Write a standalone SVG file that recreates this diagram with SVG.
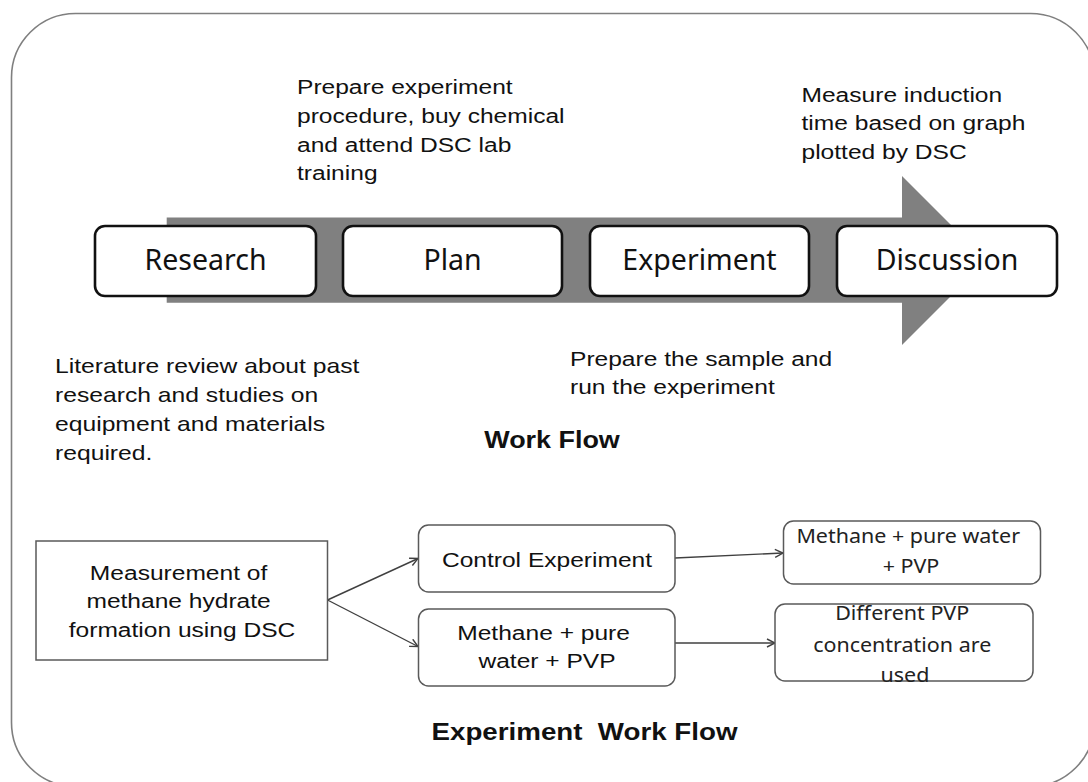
<svg xmlns="http://www.w3.org/2000/svg" width="1088" height="782" viewBox="0 0 1088 782">
  <defs>
    <style>
      .frame { fill: #ffffff; stroke: #7f7f7f; stroke-width: 1.6; }
      .stage { fill: #ffffff; stroke: #111111; stroke-width: 2.6; }
      .stagetxt { font-family: "Noto Sans", "Open Sans", sans-serif; font-size: 28.5px; fill: #111111; text-anchor: middle; }
      .para { font-family: "Liberation Sans", Arial, sans-serif; font-size: 21px; fill: #111111; }
      .title { font-family: "Liberation Sans", Arial, sans-serif; font-weight: bold; fill: #111111; text-anchor: middle; }
      .box { fill: #ffffff; stroke: #5a5a5a; stroke-width: 1.5; }
      .boxtxt { font-family: "Liberation Sans", Arial, sans-serif; font-size: 21px; fill: #111111; text-anchor: middle; }
      .calib { font-family: "Noto Sans", "Open Sans", sans-serif; font-size: 19px; fill: #222222; text-anchor: middle; }
      .conn { fill: none; stroke: #404040; stroke-width: 1.4; }
    </style>
    <marker id="chev" viewBox="0 0 10 10" refX="9" refY="5" markerWidth="10" markerHeight="10" markerUnits="userSpaceOnUse" orient="auto">
      <path d="M1,1 L9,5 L1,9" fill="none" stroke="#404040" stroke-width="1.4"/>
    </marker>
  </defs>

  <rect class="frame" x="11.5" y="13.5" width="1083" height="773" rx="64" ry="64"/>

  <g id="workflow-arrow">
    <polygon points="166.7,217.5 902,217.5 902,176 986.5,260.5 902,345 902,302.7 166.7,302.7" fill="#808080"/>
  </g>

  <g id="node-research">
    <rect class="stage" x="95" y="226" width="221" height="70" rx="10" ry="10"/>
    <text class="stagetxt" x="205.5" y="270">Research</text>
  </g>
  <g id="node-plan">
    <rect class="stage" x="343" y="226" width="219" height="70" rx="10" ry="10"/>
    <text class="stagetxt" x="452.5" y="270">Plan</text>
  </g>
  <g id="node-experiment">
    <rect class="stage" x="590" y="226" width="219" height="70" rx="10" ry="10"/>
    <text class="stagetxt" x="699.5" y="270">Experiment</text>
  </g>
  <g id="node-discussion">
    <rect class="stage" x="837" y="226" width="220" height="70" rx="10" ry="10"/>
    <text class="stagetxt" x="947" y="270">Discussion</text>
  </g>

  <g id="note-plan" transform="translate(297 0) scale(1.17 1)">
    <text class="para">
      <tspan x="0" y="94">Prepare experiment</tspan>
      <tspan x="0" y="123">procedure, buy chemical</tspan>
      <tspan x="0" y="152">and attend DSC lab</tspan>
      <tspan x="0" y="180">training</tspan>
    </text>
  </g>
  <g id="note-discussion" transform="translate(801.5 0) scale(1.17 1)">
    <text class="para">
      <tspan x="0" y="102">Measure induction</tspan>
      <tspan x="0" y="130.5">time based on graph</tspan>
      <tspan x="0" y="159">plotted by DSC</tspan>
    </text>
  </g>
  <g id="note-research" transform="translate(55 0) scale(1.175 1)">
    <text class="para">
      <tspan x="0" y="373">Literature review about past</tspan>
      <tspan x="0" y="402">research and studies on</tspan>
      <tspan x="0" y="431">equipment and materials</tspan>
      <tspan x="0" y="460">required.</tspan>
    </text>
  </g>
  <g id="note-experiment" transform="translate(570 0) scale(1.17 1)">
    <text class="para">
      <tspan x="0" y="366">Prepare the sample and</tspan>
      <tspan x="0" y="394">run the experiment</tspan>
    </text>
  </g>

  <g id="title-workflow" transform="translate(552 0) scale(1.17 1)">
    <text class="title" x="0" y="448" font-size="23px">Work Flow</text>
  </g>

  <g id="connectors">
    <path class="conn" d="M327.5,600 L418,558.5" marker-end="url(#chev)"/>
    <path class="conn" d="M327.5,600 L418,646.5" marker-end="url(#chev)"/>
    <path class="conn" d="M675,558 L783,553" marker-end="url(#chev)"/>
    <path class="conn" d="M668,643 L775,643" marker-end="url(#chev)"/>
  </g>

  <g id="node-measurement">
    <rect class="box" x="36" y="541" width="291.5" height="119"/>
    <g transform="translate(182 0) scale(1.17 1)">
      <text class="boxtxt">
        <tspan x="0" y="580">Measurement of</tspan>
        <tspan x="0" y="608">methane hydrate</tspan>
        <tspan x="0" y="637">formation using DSC</tspan>
      </text>
    </g>
  </g>
  <g id="node-control">
    <rect class="box" x="418.5" y="525" width="256.5" height="67" rx="10" ry="10"/>
    <g transform="translate(547 0) scale(1.17 1)">
      <text class="boxtxt" x="0" y="567">Control Experiment</text>
    </g>
  </g>
  <g id="node-methane-pvp">
    <rect class="box" x="418.5" y="609" width="256.5" height="77" rx="10" ry="10"/>
    <g transform="translate(547 0) scale(1.17 1)">
      <text class="boxtxt">
        <tspan x="0" y="640">Methane + pure</tspan>
        <tspan x="0" y="668">water + PVP</tspan>
      </text>
    </g>
  </g>
  <g id="node-control-result">
    <rect class="box" x="783.5" y="521" width="257" height="63" rx="10" ry="10"/>
    <g transform="translate(911 0) scale(1.13 1)">
      <text class="calib">
        <tspan x="0" y="543">Methane + pure water</tspan>
        <tspan x="0" y="573">+ PVP</tspan>
      </text>
    </g>
  </g>
  <g id="node-pvp-result">
    <rect class="box" x="775" y="604" width="258" height="77" rx="10" ry="10"/>
    <g transform="translate(905 0) scale(1.13 1)">
      <text class="calib">
        <tspan x="0" y="620">Different PVP</tspan>
        <tspan x="0" y="652">concentration are</tspan>
        <tspan x="0" y="682">used</tspan>
      </text>
    </g>
  </g>

  <g id="title-experiment-workflow" transform="translate(584.5 0) scale(1.17 1)">
    <text class="title" x="0" y="740" font-size="23.7px" xml:space="preserve">Experiment  Work Flow</text>
  </g>
</svg>
